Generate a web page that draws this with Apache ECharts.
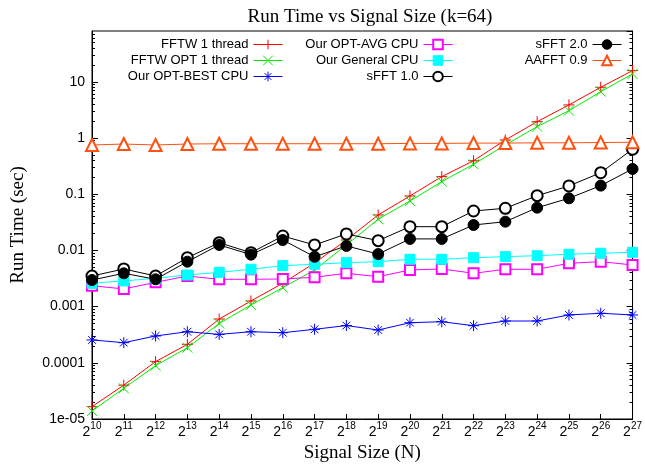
<!DOCTYPE html>
<html>
<head>
<meta charset="utf-8">
<script src="https://cdn.jsdelivr.net/npm/echarts@6/dist/echarts.min.js"></script>
<style>html,body{margin:0;padding:0;background:#fff}#c{width:645px;height:468px}</style>
</head>
<body>
<div id="c"></div>
<script>
// ---- data ----
const exponents = [10,11,12,13,14,15,16,17,18,19,20,21,22,23,24,25,26,27];
const yTickValues = [1e-5, 1e-4, 1e-3, 1e-2, 1e-1, 1, 10];
const yTickLabels = ['1e-05', '0.0001', '0.001', '0.01', '0.1', '1', '10'];

const fftw1 = [1.66e-5, 4.0e-5, 1.05e-4, 2.13e-4, 6.0e-4, 1.26e-3, 2.6e-3, 5.97e-3, 0.0153, 0.0427, 0.093, 0.205, 0.394, 0.92, 1.95, 3.87, 7.98, 15.8];
const fftwOpt1 = [1.39e-5, 3.52e-5, 8.9e-5, 1.86e-4, 5.0e-4, 1.07e-3, 2.17e-3, 4.48e-3, 0.0125, 0.0358, 0.0757, 0.167, 0.34, 0.75, 1.59, 3.06, 6.67, 13.8];
const optBest = [2.55e-4, 2.28e-4, 3.0e-4, 3.57e-4, 3.2e-4, 3.57e-4, 3.43e-4, 3.94e-4, 4.6e-4, 3.83e-4, 5.17e-4, 5.38e-4, 4.57e-4, 5.54e-4, 5.54e-4, 7.1e-4, 7.6e-4, 7.1e-4];
const optAvg = [2.35e-3, 2.06e-3, 2.7e-3, 3.5e-3, 3.06e-3, 3.06e-3, 3.1e-3, 3.32e-3, 3.91e-3, 3.4e-3, 4.48e-3, 4.67e-3, 3.91e-3, 4.61e-3, 4.61e-3, 5.89e-3, 6.3e-3, 5.5e-3];
const generalCpu = [2.6e-3, 2.86e-3, 3.19e-3, 3.65e-3, 4.07e-3, 4.61e-3, 5.35e-3, 5.66e-3, 6.04e-3, 6.3e-3, 6.95e-3, 6.95e-3, 7.41e-3, 7.73e-3, 8.05e-3, 8.53e-3, 8.88e-3, 9.25e-3];
const sfft1 = [3.5e-3, 4.67e-3, 3.5e-3, 7.41e-3, 0.0137, 9.1e-3, 0.018, 0.0125, 0.0196, 0.0149, 0.0264, 0.0264, 0.0502, 0.0561, 0.094, 0.14, 0.241, 0.63];
const sfft2 = [2.97e-3, 3.91e-3, 3.06e-3, 6.3e-3, 0.0125, 8.4e-3, 0.0153, 7.7e-3, 0.012, 8.6e-3, 0.016, 0.016, 0.0283, 0.0324, 0.0575, 0.0845, 0.142, 0.281];
const aafft = [0.75, 0.78, 0.75, 0.78, 0.79, 0.79, 0.79, 0.79, 0.79, 0.79, 0.8, 0.8, 0.81, 0.81, 0.82, 0.82, 0.83, 0.84];

const Y_MIN = 1e-5, Y_MAX = 80;

// ---- styles ----
const SANS = 'Liberation Sans';
const SERIF = 'Liberation Serif';
const PLUS = 'path://M0,5L10,5M5,0L5,10';
const CROSS = 'path://M0,0L10,10M0,10L10,0';
const STAR = 'path://M0,5L10,5M5,0L5,10M1.5,1.5L8.5,8.5M1.5,8.5L8.5,1.5';

const seriesDefs = [
  {name: 'FFTW 1 thread', data: fftw1, color: '#ff0000', symbol: PLUS, size: 11},
  {name: 'FFTW OPT 1 thread', data: fftwOpt1, color: '#00ee00', symbol: CROSS, size: 10},
  {name: 'Our OPT-BEST CPU', data: optBest, color: '#0000ff', symbol: STAR, size: 11},
  {name: 'Our OPT-AVG CPU', data: optAvg, color: '#ff00ff', symbol: 'emptyRect', size: 10},
  {name: 'Our General CPU', data: generalCpu, color: '#00ffff', symbol: 'rect', size: 10},
  {name: 'sFFT 1.0', data: sfft1, color: '#000000', symbol: 'emptyCircle', size: 11},
  {name: 'sFFT 2.0', data: sfft2, color: '#000000', symbol: 'circle', size: 11},
  {name: 'AAFFT 0.9', data: aafft, color: '#ff5010', symbol: 'emptyTriangle', size: 12}
];

// minor tick positions (log-spaced 2..9 within each decade), in log10 space
const minorTicks = [];
for (let d = -5; d <= 1; d++) {
  for (let m = 2; m <= 9; m++) {
    const v = m * Math.pow(10, d);
    if (v < Y_MAX) minorTicks.push(Math.log10(v));
  }
}

function yLabel(v) {
  for (let i = 0; i < yTickValues.length; i++) {
    if (Math.abs(Math.log10(v) - Math.log10(yTickValues[i])) < 1e-6) return yTickLabels[i];
  }
  return '';
}

const logAxisBase = (pos, labels) => ({
  type: 'log', logBase: 10, min: Y_MIN, max: Y_MAX, position: pos,
  axisLine: {show: true, onZero: false, lineStyle: {color: '#000', width: 1}},
  axisTick: {show: true, inside: true, length: 6, lineStyle: {color: '#000'}},
  axisLabel: {show: labels, margin: 7, fontFamily: SANS, fontSize: 14, color: '#000',
              formatter: yLabel, showMaxLabel: false},
  splitLine: {show: false}
});
const minorAxis = (pos) => ({
  type: 'value', min: Math.log10(Y_MIN), max: Math.log10(Y_MAX), position: pos,
  axisLine: {show: false, onZero: false},
  axisTick: {show: true, inside: true, length: 3, customValues: minorTicks, lineStyle: {color: '#000'}},
  axisLabel: {show: false},
  splitLine: {show: false}
});

const yAxes = [
  Object.assign(logAxisBase('left', true), {
    name: 'Run Time (sec)', nameLocation: 'middle', nameGap: 64,
    nameTextStyle: {fontFamily: SERIF, fontSize: 19, color: '#000'}
  }),
  logAxisBase('right', false),
  minorAxis('left'),
  minorAxis('right')
];

const legendCommon = {
  orient: 'vertical', align: 'right', top: 38, padding: 0,
  itemWidth: 29, itemHeight: 12, itemGap: 3,
  textStyle: {fontFamily: SANS, fontSize: 13, color: '#000'},
  itemStyle: {borderWidth: 1},
  lineStyle: {width: 1},
  selectedMode: false
};

const option = {
  animation: false,
  backgroundColor: '#fff',
  title: {
    text: 'Run Time vs Signal Size (k=64)', left: 365, top: 3, textAlign: 'center',
    textStyle: {fontFamily: SERIF, fontSize: 19, fontWeight: 'normal', color: '#000'}
  },
  grid: {left: 92, right: 7, top: 31, bottom: 49, show: true, borderColor: '#000', borderWidth: 1},
  legend: [
    Object.assign({}, legendCommon, {right: 362, data: seriesDefs.slice(0, 3).map(s => s.name)}),
    Object.assign({}, legendCommon, {right: 192, data: seriesDefs.slice(3, 6).map(s => s.name)}),
    Object.assign({}, legendCommon, {right: 23, data: seriesDefs.slice(6).map(s => s.name)})
  ],
  xAxis: {
    type: 'category', data: exponents, boundaryGap: false,
    name: 'Signal Size (N)', nameLocation: 'middle', nameGap: 25,
    nameTextStyle: {fontFamily: SERIF, fontSize: 19, color: '#000'},
    axisLine: {show: true, onZero: false, lineStyle: {color: '#000', width: 1}},
    axisTick: {show: true, inside: true, length: 5, alignWithLabel: true, lineStyle: {color: '#000'}},
    axisLabel: {
      interval: 0, margin: 2, color: '#000',
      formatter: v => '{b|2}{s|' + v + '}',
      rich: {
        b: {fontFamily: SANS, fontSize: 14, color: '#000'},
        s: {fontFamily: SANS, fontSize: 10, color: '#000', padding: [0, 0, 12, 0]}
      }
    },
    splitLine: {show: false}
  },
  yAxis: yAxes,
  series: seriesDefs.map(s => ({
    name: s.name, type: 'line', yAxisIndex: 0,
    data: s.data,
    symbol: s.symbol, symbolSize: s.size, symbolKeepAspect: true, showAllSymbol: true,
    lineStyle: {color: s.color, width: 1},
    itemStyle: {color: s.color, borderColor: s.color, borderWidth: 1},
    emphasis: {disabled: true}
  }))
};

const chart = echarts.init(document.getElementById('c'), null, {renderer: 'canvas'});
chart.setOption(option);
</script>
</body>
</html>
